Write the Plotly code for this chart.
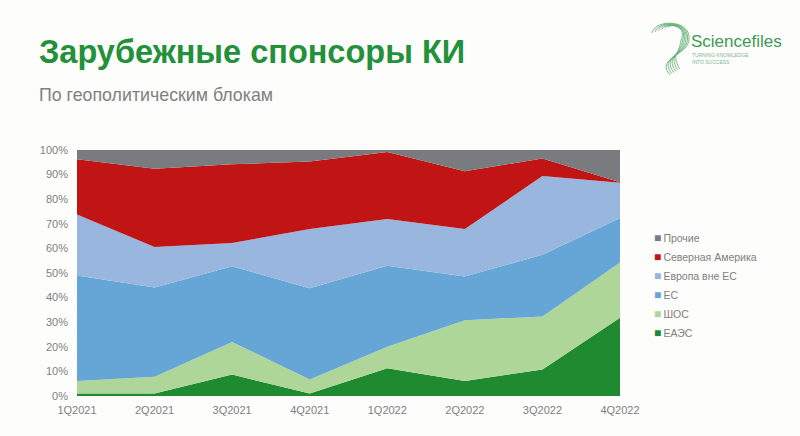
import plotly.graph_objects as go

quarters = ["1Q2021", "2Q2021", "3Q2021", "4Q2021", "1Q2022", "2Q2022", "3Q2022", "4Q2022"]
eaes = [1.0, 1.0, 8.7, 1.0, 11.3, 6.1, 10.8, 31.8]
shos = [5.1, 6.8, 13.3, 5.7, 8.7, 24.7, 21.5, 22.5]
eu = [42.9, 36.3, 30.7, 37.1, 32.9, 17.8, 25.1, 18.1]
europe_non_eu = [24.8, 16.5, 9.5, 24.1, 19.1, 19.3, 32.0, 14.3]
north_america = [22.4, 31.8, 32.0, 27.4, 27.2, 23.5, 7.1, 0.2]
other = [3.8, 7.6, 5.8, 4.7, 0.8, 8.6, 3.5, 13.1]

series = [
    ("ЕАЭС", eaes, "#1f8a2f"),
    ("ШОС", shos, "#afd699"),
    ("ЕС", eu, "#65a6d6"),
    ("Европа вне ЕС", europe_non_eu, "#98b6de"),
    ("Северная Америка", north_america, "#c11414"),
    ("Прочие", other, "#797b7f"),
]

fig = go.Figure()
for name, vals, col in series:
    fig.add_trace(go.Scatter(
        x=quarters, y=vals, name=name, stackgroup="one", showlegend=False,
        mode="lines", line=dict(width=0, color=col), fillcolor=col,
    ))
# legend entries: small coloured square glued to the label
for name, vals, col in series:
    fig.add_trace(go.Scatter(
        x=[None], y=[None], mode="markers",
        name=f'<span style="color:{col};font-size:12px">■</span>\u2009{name}',
        marker=dict(symbol="square", size=1, color="rgba(0,0,0,0)"), showlegend=True,
    ))

# logo swirl (decorative), pixel -> paper conversion
L, T, W, H = 77, 150, 543, 246
def px(x, y):
    return f"{(x - L) / W:.4f},{(T + H - y) / H:.4f}"

shapes = []
for k in range(6):
    d = k * 3.2
    path = ("M " + px(652 + d, 33 - k * 1.2) +
            " C " + px(656 + d, 18 + k * 1.0) + " " + px(692 - d * 0.3, 20 + k * 1.5) + " " + px(689 - d * 0.5, 40) +
            " C " + px(687 - d * 0.5, 56) + " " + px(655 + d, 58 - k) + " " + px(670 + d * 0.6, 75 - k * 1.2))
    shapes.append(dict(type="path", xref="paper", yref="paper", path=path,
                       line=dict(color="#5aaa6c", width=0.8)))

fig.update_layout(
    width=800, height=436,
    paper_bgcolor="#fdfdfc", plot_bgcolor="#fdfdfc",
    margin=dict(l=77, r=180, t=150, b=40),
    font=dict(family="Liberation Sans, Arial, sans-serif", color="#7f7f7f", size=11),
    showlegend=True,
    shapes=shapes,
    legend=dict(x=0.989, y=0.70, xanchor="left", yanchor="top", traceorder="reversed",
                font=dict(size=10.5, color="#7f7f7f"), itemwidth=30, tracegroupgap=0,
                bgcolor="rgba(0,0,0,0)"),
    xaxis=dict(range=[0, 7], showgrid=False, zeroline=False, showline=False,
               ticks="", ticklabelstandoff=6, tickfont=dict(size=11, color="#7f7f7f")),
    yaxis=dict(range=[0, 100], dtick=10, ticksuffix="%", showgrid=False, zeroline=False,
               showline=False, ticks="", ticklabelstandoff=8, tickfont=dict(size=11, color="#7f7f7f")),
    annotations=[
        dict(text="<b>Зарубежные спонсоры КИ</b>", xref="paper", yref="paper",
             x=-0.073, y=1.40, xanchor="left", yanchor="middle", showarrow=False,
             font=dict(size=32.5, color="#23903a", family="Liberation Sans, Arial, sans-serif")),
        dict(text="По геополитическим блокам", xref="paper", yref="paper",
             x=-0.074, y=1.225, xanchor="left", yanchor="middle", showarrow=False,
             font=dict(size=17.8, color="#808080", family="Liberation Sans, Arial, sans-serif")),
        dict(text="Sciencefiles", xref="paper", yref="paper",
             x=1.127, y=1.44, xanchor="left", yanchor="middle", showarrow=False,
             font=dict(size=17, color="#3c9a54", family="Liberation Sans, Arial, sans-serif")),
        dict(text="TURNING KNOWLEDGE<br>INTO SUCCESS", xref="paper", yref="paper",
             x=1.129, y=1.37, xanchor="left", yanchor="middle", showarrow=False, align="left",
             font=dict(size=5, color="#7fb88e", family="Liberation Sans, Arial, sans-serif")),
    ],
)

fig.write_html("out.html")
